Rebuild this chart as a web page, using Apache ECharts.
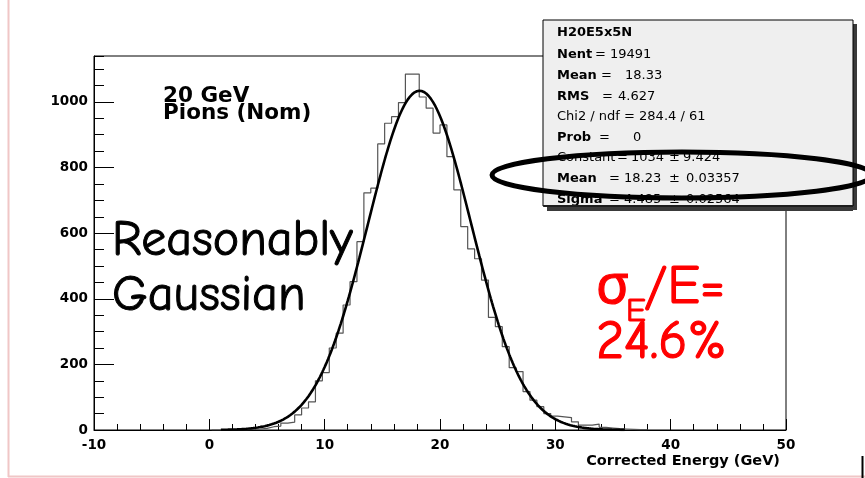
<!DOCTYPE html>
<html>
<head>
<meta charset="utf-8">
<script src="https://cdn.jsdelivr.net/npm/echarts@6/dist/echarts.min.js"></script>
<style>
  html, body { margin: 0; padding: 0; background: #ffffff; }
  #chart { width: 865px; height: 478px; }
</style>
</head>
<body>
<div id="chart"></div>
<script>
// Histogram binning: 100 bins of 0.6 GeV spanning -10 .. 50 GeV
const binLow = -10;
const binWidth = 0.6;
// index of the first filled bin listed below (lower edge 0.2 GeV)
const firstBin = 17;
// entries per bin
const counts = [
  0, 0, 1, 1, 1, 2,
  3, 5, 10, 12, 21, 24, 46, 67, 86, 150, 175, 250,
  295, 381, 452, 574, 723, 737, 872, 935, 955, 998,
  1085, 1085, 1015, 981, 905, 930, 833, 732,
  620, 552, 522, 457, 343, 315, 254,
  190, 178, 117, 91, 71, 50, 42, 40, 38, 25, 15, 15, 18, 8, 6, 4, 3, 2, 1, 1
];

// Gaussian fit result
const fitConstant = 1034;
const fitMean = 18.23;
const fitSigma = 4.485;
const fitRange = [1, 36];

// axis ranges and ticks
const xRange = [-10, 50];
const xStep = 10;
const yRange = [0, 1140];
const yStep = 200;
const yMinorStep = 50;

// statistics box: each line is a list of [text, x, bold]
const statTitle = 'H20E5x5N';
const statLines = [
  [['Nent', 557, true], ['=', 595, false], ['19491', 610, false]],
  [['Mean', 557, true], ['=', 601, false], ['18.33', 625, false]],
  [['RMS', 557, true], ['=', 602, false], ['4.627', 618, false]],
  [['Chi2 / ndf = 284.4 / 61', 557, false]],
  [['Prob', 557, true], ['=', 599, false], ['0', 633, false]],
  [['Constant', 557, false], ['=', 617, false], ['1034', 631, false], ['\u00b1', 669, false], ['9.424', 683, false]],
  [['Mean', 557, true], ['=', 609, false], ['18.23', 624, false], ['\u00b1', 669, false], ['0.03357', 686, false]],
  [['Sigma', 557, true], ['=', 609, false], ['4.485', 624, false], ['\u00b1', 669, false], ['0.02564', 686, false]]
];

// histogram outline as a step line through bin lower edges
const histPoints = counts.map((c, i) => [+(binLow + (firstBin + i) * binWidth).toFixed(2), c]);
histPoints.push([+(binLow + (firstBin + counts.length) * binWidth).toFixed(2), 0]);

// fit function sampled over its range
const fitPoints = [];
for (let i = 0; i <= Math.round((fitRange[1] - fitRange[0]) * 10); i++) {
  const x = fitRange[0] + i / 10;
  const z = (x - fitMean) / fitSigma;
  fitPoints.push([+x.toFixed(2), fitConstant * Math.exp(-0.5 * z * z)]);
}

const axisFont = { fontFamily: 'DejaVu Sans', fontWeight: 'bold', fontSize: 13.5, color: '#000' };
const statFont = '13px "DejaVu Sans"';
const statBold = 'bold 13px "DejaVu Sans"';

function label(text, x, y, font, fill, z, stroke) {
  const style = { text, font, fill, align: 'left', verticalAlign: 'middle' };
  if (stroke) { style.stroke = fill; style.lineWidth = stroke; }
  return { type: 'text', z: z || 50, x, y, style };
}

const graphics = [];
// slide frame lines
graphics.push({ type: 'line', z: 1, shape: { x1: 8.5, y1: 0, x2: 8.5, y2: 477 }, style: { stroke: '#f0c6c6', lineWidth: 2 } });
graphics.push({ type: 'line', z: 1, shape: { x1: 8, y1: 476.5, x2: 865, y2: 476.5 }, style: { stroke: '#f0c6c6', lineWidth: 2 } });
graphics.push({ type: 'line', z: 1, shape: { x1: 862.5, y1: 456, x2: 862.5, y2: 478 }, style: { stroke: '#000', lineWidth: 2 } });

// plot annotations
graphics.push(label('20 GeV', 163, 96.5, 'bold 21.5px "DejaVu Sans"', '#000'));
graphics.push(label('Pions (Nom)', 163, 113, 'bold 21.5px "DejaVu Sans"', '#000'));

const handFont = '"Comic Sans MS", "Comic Neue", "Noto Sans", sans-serif';
graphics.push(label('Reasonably', 112, 241, '50px ' + handFont, '#000', 50, 1));
graphics.push(label('Gaussian', 112, 296, '50px ' + handFont, '#000', 50, 1));

graphics.push(label('\u03c3', 596, 288, '54px ' + handFont, '#ff0000', 50, 1.2));
graphics.push(label('E', 626, 312, '33px ' + handFont, '#ff0000', 50, 1));
graphics.push(label('/E=', 644, 288, '54px ' + handFont, '#ff0000', 50, 1.2));
graphics.push(label('24.6%', 596, 343, '54px ' + handFont, '#ff0000', 50, 1.2));

// statistics box with drop shadow
const box = { x: 543, y: 20, w: 310, h: 186 };
graphics.push({ type: 'rect', z: 60, shape: { x: box.x + 4, y: box.y + 4, width: box.w, height: box.h }, style: { fill: '#3a3a3a' } });
graphics.push({ type: 'rect', z: 61, shape: { x: box.x, y: box.y, width: box.w, height: box.h }, style: { fill: '#efefef', stroke: '#000', lineWidth: 1 } });
graphics.push(label(statTitle, 557, 33, statBold, '#000', 62));
statLines.forEach((parts, i) => {
  const y = 55 + i * 20.6;
  parts.forEach(p => graphics.push(label(p[0], p[1], y, p[2] ? statBold : statFont, '#000', 62)));
});
// the last line is cut by the lower edge of the box
graphics.push({ type: 'rect', z: 63, shape: { x: box.x + 1, y: box.y + box.h - 1, width: box.w - 1, height: 6 }, style: { fill: '#3a3a3a' } });
graphics.push({ type: 'line', z: 64, shape: { x1: box.x, y1: box.y + box.h, x2: box.x + box.w, y2: box.y + box.h }, style: { stroke: '#000', lineWidth: 1 } });
graphics.push({ type: 'rect', z: 63, shape: { x: box.x - 1, y: box.y + box.h + 1, width: 5, height: 6 }, style: { fill: '#ffffff' } });

// hand-drawn ellipse highlighting the fitted mean
graphics.push({ type: 'ellipse', z: 70, shape: { cx: 682, cy: 175, rx: 190, ry: 23 }, style: { fill: 'none', stroke: '#000', lineWidth: 5 } });

const chart = echarts.init(document.getElementById('chart'), null, { renderer: 'canvas' });
chart.setOption({
  animation: false,
  backgroundColor: '#ffffff',
  grid: {
    left: 94, top: 56, width: 692, height: 374,
    show: true, borderColor: '#000', borderWidth: 1, backgroundColor: 'transparent',
    containLabel: false, outerBoundsMode: 'none'
  },
  xAxis: {
    type: 'value', min: xRange[0], max: xRange[1], interval: xStep,
    axisLine: { show: true, onZero: false, lineStyle: { color: '#000', width: 1 } },
    axisTick: { show: true, inside: true, length: 11, lineStyle: { color: '#000', width: 1 } },
    minorTick: { show: true, splitNumber: 5, length: 6, lineStyle: { color: '#000', width: 1 } },
    splitLine: { show: false },
    minorSplitLine: { show: false },
    axisLabel: Object.assign({ margin: 8, formatter: v => String(v) }, axisFont),
    name: 'Corrected Energy (GeV)',
    nameLocation: 'end',
    nameGap: 0,
    nameTextStyle: {
      fontFamily: 'DejaVu Sans', fontWeight: 'bold', fontSize: 14.5, color: '#000',
      align: 'right', verticalAlign: 'top', padding: [24, 6, 0, 0]
    }
  },
  yAxis: [
    {
      type: 'value', min: yRange[0], max: yRange[1], interval: yStep, position: 'left',
      axisLine: { show: true, onZero: false, lineStyle: { color: '#000', width: 1 } },
      axisTick: { show: true, inside: true, length: 20, lineStyle: { color: '#000', width: 1 } },
      splitLine: { show: false },
      axisLabel: Object.assign({ margin: 6, showMaxLabel: false, formatter: v => String(v) }, axisFont)
    },
    {
      type: 'value', min: yRange[0], max: yRange[1], interval: yMinorStep, position: 'left',
      axisLine: { show: false, onZero: false },
      axisTick: { show: true, inside: true, length: 10, lineStyle: { color: '#000', width: 1 } },
      splitLine: { show: false },
      axisLabel: { show: false }
    }
  ],
  series: [
    {
      type: 'line', name: 'H20E5x5N', data: histPoints, step: 'end',
      xAxisIndex: 0, yAxisIndex: 0,
      showSymbol: false, symbol: 'none', clip: true, z: 3,
      lineStyle: { color: '#555555', width: 1.2 }
    },
    {
      type: 'line', name: 'gaus', data: fitPoints,
      xAxisIndex: 0, yAxisIndex: 0,
      showSymbol: false, symbol: 'none', clip: true, z: 4,
      lineStyle: { color: '#000000', width: 2.6 }
    }
  ],
  graphic: graphics
});
</script>
</body>
</html>
